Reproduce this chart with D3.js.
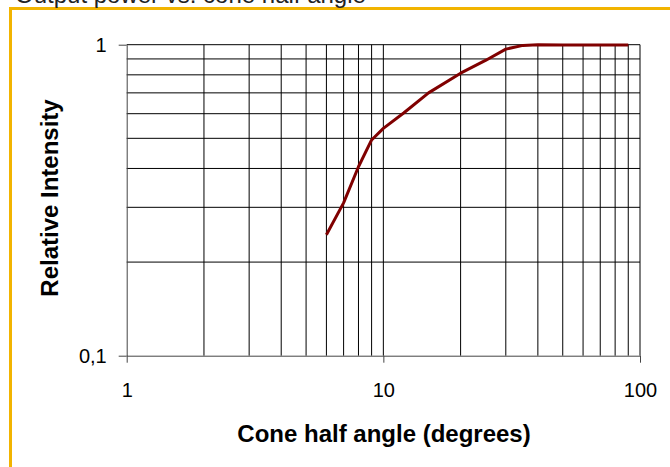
<!DOCTYPE html>
<html><head><meta charset="utf-8">
<script src="https://cdn.jsdelivr.net/npm/d3@7"></script>
<style>body{margin:0;background:#fff;overflow:hidden}svg{display:block}</style>
</head><body>
<script>
const angles = [6, 7, 8, 9, 10, 12, 15, 20, 25, 30, 35, 40, 50, 60, 70, 80, 90];
const intensity = [0.245, 0.31, 0.405, 0.494, 0.538, 0.603, 0.70, 0.81, 0.89, 0.968, 0.995, 1.0, 0.998, 0.998, 0.998, 0.998, 0.998];
const xTickValues = [1, 10, 100];
const xTickLabels = ["1", "10", "100"];
const yTickValues = [0.1, 1];
const yTickLabels = ["0,1", "1"];
const xGrid = [2,3,4,5,6,7,8,9,10,20,30,40,50,60,70,80,90,100];
const yGrid = [0.2,0.3,0.4,0.5,0.6,0.7,0.8,0.9,1];
const title = "Output power vs. cone half angle";
const xTitle = "Cone half angle (degrees)";
const yTitle = "Relative Intensity";

const W = 670, H = 467;
const svg = d3.select("body").append("svg").attr("width", W).attr("height", H);
const font = "Arial, 'Liberation Sans', sans-serif";

svg.append("rect").attr("x", 10.5).attr("y", 8.5).attr("width", 700).attr("height", 500)
  .attr("fill", "none").attr("stroke", "#F2B400").attr("stroke-width", 3);

svg.append("text").attr("x", 15).attr("y", 3).attr("font-family", font)
  .attr("font-size", 24).attr("fill", "#222").text(title);

const x = d3.scaleLog().domain([1, 100]).range([126.7, 640]);
const y = d3.scaleLog().domain([0.1, 1]).range([355.7, 44.7]);

const g = svg.append("g");
g.selectAll(".gx").data(xGrid).join("line")
  .attr("x1", d => x(d)).attr("x2", d => x(d)).attr("y1", y(1)).attr("y2", y(0.1))
  .attr("stroke", "#000").attr("stroke-width", 1);
g.selectAll(".gy").data(yGrid).join("line")
  .attr("x1", x(1)).attr("x2", x(100)).attr("y1", d => y(d)).attr("y2", d => y(d))
  .attr("stroke", "#000").attr("stroke-width", 1);

const xAxis = d3.axisBottom(x).tickValues(xTickValues)
  .tickFormat((d, i) => xTickLabels[i]).tickSize(7).tickSizeOuter(0).tickPadding(20);
const yAxis = d3.axisLeft(y).tickValues(yTickValues)
  .tickFormat((d, i) => yTickLabels[i]).tickSize(8).tickSizeOuter(0).tickPadding(12);
const gx = svg.append("g").attr("transform", `translate(0,${y(0.1)})`).call(xAxis);
const gy = svg.append("g").attr("transform", `translate(${x(1)},0)`).call(yAxis);
[gx, gy].forEach(a => {
  a.selectAll("path").attr("stroke", "#444");
  a.selectAll("line").attr("stroke", "#444");
  a.selectAll("text").attr("font-family", font).attr("font-size", 20).attr("fill", "#000");
});

const line = d3.line().x(d => x(d[0])).y(d => y(d[1]));
svg.append("path").datum(angles.map((a, i) => [a, intensity[i]]))
  .attr("d", line).attr("fill", "none").attr("stroke", "#800000")
  .attr("stroke-width", 3).attr("stroke-linejoin", "round");

svg.append("text").attr("x", 384).attr("y", 442).attr("text-anchor", "middle")
  .attr("font-family", font).attr("font-weight", "bold").attr("font-size", 24).text(xTitle);
svg.append("text").attr("transform", "translate(58,198) rotate(-90)").attr("text-anchor", "middle")
  .attr("font-family", font).attr("font-weight", "bold").attr("font-size", 24).text(yTitle);
</script>
</body></html>
